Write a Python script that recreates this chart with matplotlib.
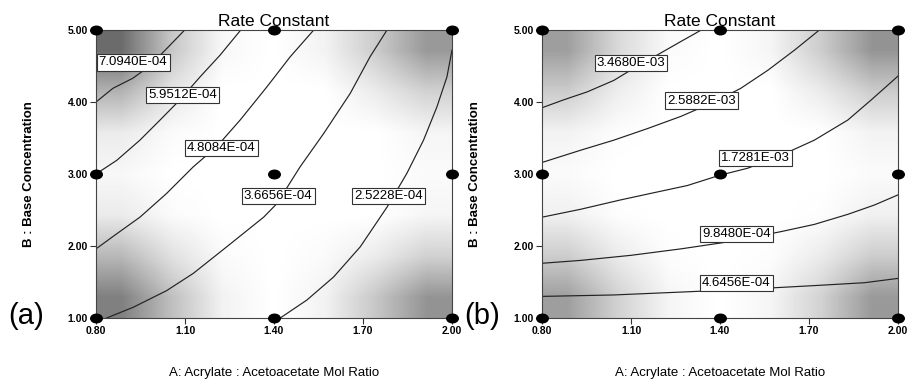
import matplotlib
matplotlib.use("Agg")
import matplotlib.pyplot as plt
from matplotlib.markers import MarkerStyle
from matplotlib.transforms import Affine2D
import numpy as np

plt.rcParams['font.family'] = ['Liberation Sans', 'DejaVu Sans']

# design points (factorial + centre)
design_x = [0.8, 1.4, 2.0]
design_y = [1.0, 3.0, 5.0]
x_ticks = [0.80, 1.10, 1.40, 1.70, 2.00]
y_ticks = [1.00, 2.00, 3.00, 4.00, 5.00]

# panel (a) contours
a_levels = ["7.0940E-04", "5.9512E-04", "4.8084E-04", "3.6656E-04", "2.5228E-04"]
a_x = [
    [0.80, 0.857, 0.924, 0.978, 1.045, 1.099],
    [0.80, 0.870, 0.948, 1.016, 1.083, 1.151, 1.218, 1.288],
    [0.80, 0.870, 0.948, 1.038, 1.128, 1.207, 1.286, 1.376, 1.455, 1.534],
    [0.836, 0.926, 1.038, 1.128, 1.241, 1.365, 1.410, 1.488, 1.567, 1.657, 1.724, 1.781],
    [1.421, 1.511, 1.601, 1.691, 1.781, 1.848, 1.904, 1.949, 1.983, 2.0],
]
a_y = [
    [4.00, 4.19, 4.33, 4.49, 4.77, 5.00],
    [3.00, 3.19, 3.47, 3.75, 4.03, 4.35, 4.65, 5.00],
    [1.96, 2.17, 2.40, 2.73, 3.10, 3.38, 3.75, 4.21, 4.63, 5.00],
    [1.00, 1.15, 1.38, 1.62, 1.99, 2.40, 2.59, 3.10, 3.56, 4.12, 4.63, 5.00],
    [1.00, 1.25, 1.57, 1.99, 2.54, 3.01, 3.47, 3.93, 4.35, 4.72],
]
a_lab_x = [0.925, 1.092, 1.222, 1.414, 1.786]
a_lab_y = [4.55, 4.10, 3.36, 2.69, 2.69]

# panel (b) contours
b_levels = ["3.4680E-03", "2.5882E-03", "1.7281E-03", "9.8480E-04", "4.6456E-04"]
b_x = [
    [0.80, 0.873, 0.952, 1.042, 1.110, 1.200, 1.268, 1.337],
    [0.80, 0.930, 1.042, 1.155, 1.268, 1.380, 1.470, 1.561, 1.651, 1.735],
    [0.80, 0.930, 1.065, 1.177, 1.290, 1.397, 1.493, 1.606, 1.718, 1.831, 1.910, 2.0],
    [0.80, 0.930, 1.099, 1.268, 1.448, 1.606, 1.718, 1.831, 1.921, 2.0],
    [0.80, 1.042, 1.268, 1.493, 1.718, 1.887, 2.0],
]
b_y = [
    [3.92, 4.03, 4.14, 4.30, 4.47, 4.68, 4.84, 5.00],
    [3.16, 3.33, 3.47, 3.63, 3.80, 4.00, 4.19, 4.44, 4.72, 5.00],
    [2.40, 2.51, 2.64, 2.74, 2.84, 2.98, 3.08, 3.26, 3.47, 3.75, 4.03, 4.36],
    [1.76, 1.80, 1.87, 1.96, 2.07, 2.20, 2.30, 2.44, 2.57, 2.71],
    [1.30, 1.32, 1.36, 1.40, 1.45, 1.49, 1.55],
]
b_lab_x = [1.100, 1.339, 1.519, 1.455, 1.455]
b_lab_y = [4.54, 4.02, 3.22, 2.17, 1.49]

# background grey shading (rows top -> bottom)
a_shade = [
    [0.42, 0.78, 0.97, 1.00, 0.95, 0.80, 0.60],
    [0.70, 0.90, 1.00, 1.00, 1.00, 0.92, 0.82],
    [0.92, 0.98, 1.00, 1.00, 1.00, 1.00, 0.96],
    [0.97, 1.00, 1.00, 1.00, 1.00, 1.00, 0.98],
    [0.92, 0.98, 1.00, 1.00, 1.00, 1.00, 0.96],
    [0.72, 0.88, 0.98, 1.00, 0.98, 0.92, 0.82],
    [0.50, 0.75, 0.95, 1.00, 0.95, 0.78, 0.58],
]
b_shade = [
    [0.62, 0.85, 0.98, 1.00, 0.96, 0.80, 0.58],
    [0.80, 0.93, 1.00, 1.00, 1.00, 0.92, 0.80],
    [0.95, 0.99, 1.00, 1.00, 1.00, 1.00, 0.95],
    [0.98, 1.00, 1.00, 1.00, 1.00, 1.00, 0.98],
    [0.94, 0.99, 1.00, 1.00, 1.00, 0.99, 0.94],
    [0.80, 0.92, 0.99, 1.00, 0.99, 0.92, 0.80],
    [0.62, 0.82, 0.96, 1.00, 0.96, 0.82, 0.60],
]

W, H = 907, 382
fig = plt.figure(figsize=(W / 100, H / 100), dpi=100)
ell = MarkerStyle('o', transform=Affine2D().scale(1.35, 1.0))


def panel(left, shade, xs, ys, levels, lx, ly, tag, tag_x):
    ax = fig.add_axes([left / W, 1 - 318 / H, 356 / W, 288 / H])
    ax.imshow(np.array(shade), cmap='gray', vmin=0, vmax=1, extent=(0.8, 2.0, 1.0, 5.0),
              aspect='auto', interpolation='bilinear', zorder=0)
    for cx, cy in zip(xs, ys):
        ax.plot(cx, cy, color='#222222', lw=0.85, zorder=2)
    for t, px, py in zip(levels, lx, ly):
        ax.text(px, py, t, ha='center', va='center', fontsize=9.5, zorder=4,
                bbox=dict(boxstyle='square,pad=0.16', fc='white', ec='#333333', lw=0.8))
    gx, gy = np.meshgrid(design_x, design_y)
    ax.scatter(gx.ravel(), gy.ravel(), marker=ell, s=38, color='black', zorder=5, clip_on=False)
    ax.set_xlim(0.8, 2.0)
    ax.set_ylim(1.0, 5.0)
    ax.set_xticks(x_ticks)
    ax.set_yticks(y_ticks)
    ax.set_xticklabels([f"{v:.2f}" for v in x_ticks], fontsize=7.5, fontweight='bold')
    ax.set_yticklabels([f"{v:.2f}" for v in y_ticks], fontsize=7.5, fontweight='bold')
    ax.tick_params(direction='out', length=4, width=0.8, color='#333333', pad=2)
    for s in ax.spines.values():
        s.set_color('#444444')
        s.set_linewidth(0.8)
    ax.set_title("Rate Constant", fontsize=12.5, pad=3)
    ax.set_xlabel("A: Acrylate : Acetoacetate Mol Ratio", fontsize=9.5)
    ax.xaxis.set_label_coords(0.5, -0.17)
    ax.set_ylabel("B : Base Concentration", fontsize=9.5, fontweight='bold')
    ax.yaxis.set_label_coords(-0.17, 0.5)
    fig.text(tag_x / W, 1 - 316 / H, tag, ha='center', va='center', fontsize=21)
    return ax


panel(96, a_shade, a_x, a_y, a_levels, a_lab_x, a_lab_y, "(a)", 26)
panel(542, b_shade, b_x, b_y, b_levels, b_lab_x, b_lab_y, "(b)", 482)

fig.savefig("out.png", dpi=100)
